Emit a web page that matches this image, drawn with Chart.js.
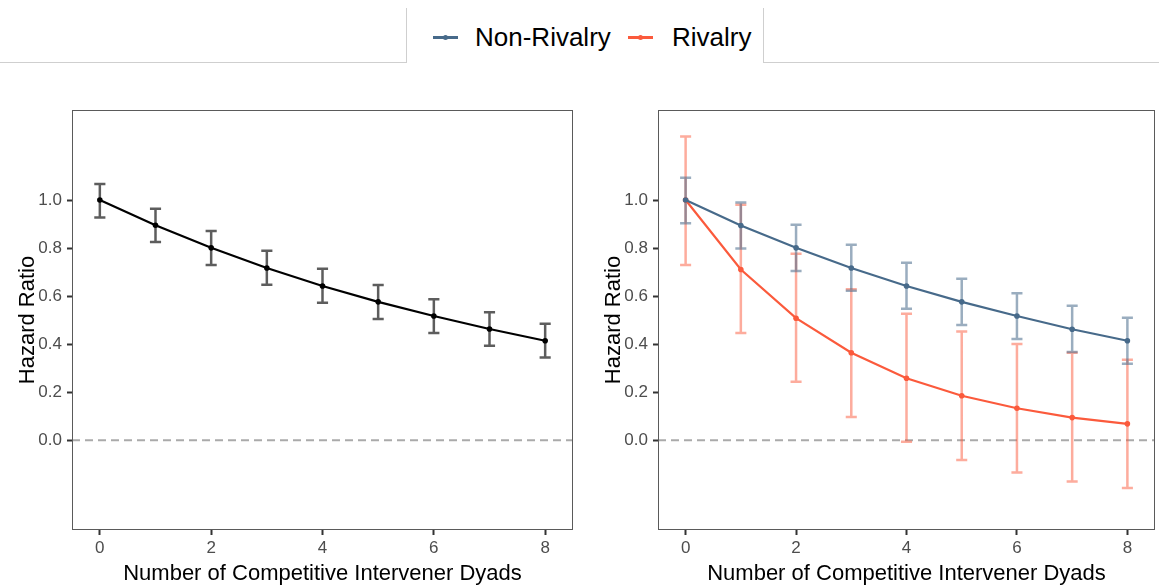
<!DOCTYPE html>
<html>
<head>
<meta charset="utf-8">
<script src="https://cdn.jsdelivr.net/npm/chart.js@4/dist/chart.umd.min.js"></script>
<style>
	body { margin: 0; background: #fff; font-family: "Liberation Sans", Arial, sans-serif; }
	#page { position: relative; width: 1159px; height: 587px; overflow: hidden; }
	canvas { position: absolute; }
	.rule { position: absolute; background: #cfcfcf; }
	.legend-line { position: absolute; height: 3px; top: 36px; width: 25px; }
	.legend-dot { position: absolute; width: 5px; height: 5px; border-radius: 50%; top: 35px; }
	.legend-text { position: absolute; top: 21px; font-size: 26px; line-height: 32px; color: #000; }
</style>
</head>
<body>
<div id="page">
	<div class="rule" style="left:0;top:62px;width:406px;height:1px"></div>
	<div class="rule" style="left:763px;top:62px;width:396px;height:1px"></div>
	<div class="rule" style="left:406px;top:8px;width:1px;height:55px"></div>
	<div class="rule" style="left:763px;top:8px;width:1px;height:55px"></div>

	<div class="legend-line" style="left:433px;background:#476a8a"></div>
	<div class="legend-dot" style="left:443px;background:#476a8a"></div>
	<div class="legend-text" style="left:475px">Non-Rivalry</div>
	<div class="legend-line" style="left:628px;background:#fb5a3c"></div>
	<div class="legend-dot" style="left:638px;background:#fb5a3c"></div>
	<div class="legend-text" style="left:672px">Rivalry</div>

	<canvas id="graphique-global" width="580" height="487" style="left:0;top:100px"></canvas>
	<canvas id="graphique-rivalite" width="573" height="487" style="left:586px;top:100px"></canvas>
</div>
<script>
// Nombre de dyades (axe x)
const dyades = [0, 1, 2, 3, 4, 5, 6, 7, 8];
const xTicks = [0, 2, 4, 6, 8];
const yTicks = [0.0, 0.2, 0.4, 0.6, 0.8, 1.0];

// Panneau gauche : toutes les dyades
const global = [1.0, 0.895, 0.801, 0.717, 0.642, 0.576, 0.517, 0.463, 0.414];
const globalBas = [0.927, 0.825, 0.730, 0.647, 0.572, 0.505, 0.446, 0.393, 0.344];
const globalHaut = [1.067, 0.964, 0.871, 0.789, 0.714, 0.646, 0.587, 0.533, 0.485];

// Panneau droit : non-rivalité / rivalité
const nonRivalite = [1.0, 0.894, 0.801, 0.717, 0.642, 0.576, 0.517, 0.462, 0.414];
const nonRivaliteBas = [0.903, 0.798, 0.705, 0.622, 0.547, 0.480, 0.421, 0.367, 0.318];
const nonRivaliteHaut = [1.093, 0.990, 0.897, 0.814, 0.739, 0.672, 0.612, 0.560, 0.510];
const rivalite = [1.0, 0.711, 0.508, 0.364, 0.258, 0.185, 0.133, 0.094, 0.068];
const rivaliteBas = [0.730, 0.446, 0.243, 0.097, -0.007, -0.082, -0.135, -0.172, -0.199];
const rivaliteHaut = [1.265, 0.980, 0.776, 0.629, 0.527, 0.453, 0.401, 0.364, 0.335];

const titreX = "Number of Competitive Intervener Dyads";
const titreY = "Hazard Ratio";

// Barres d'erreur, ligne pointillée à 0 et cadre du panneau
const decorations = {
	id: "decorations",
	beforeDatasetsDraw(chart) {
		const { ctx, chartArea, scales: { x, y } } = chart;
		ctx.save();
		ctx.strokeStyle = "#aaaaaa";
		ctx.lineWidth = 2;
		ctx.setLineDash([8, 5]);
		const y0 = y.getPixelForValue(0);
		ctx.beginPath();
		ctx.moveTo(chartArea.left, y0);
		ctx.lineTo(chartArea.right, y0);
		ctx.stroke();
		ctx.setLineDash([]);
		const demi = x.getPixelForValue(0.1) - x.getPixelForValue(0);
		for (let d = chart.data.datasets.length - 1; d >= 0; d--) {
			const ds = chart.data.datasets[d];
			ctx.strokeStyle = ds.couleurIC;
			ctx.lineWidth = 2.5;
			ctx.beginPath();
			for (let i = 0; i < ds.data.length; i++) {
				const px = x.getPixelForValue(ds.data[i].x);
				const haut = y.getPixelForValue(ds.haut[i]);
				const bas = y.getPixelForValue(ds.bas[i]);
				ctx.moveTo(px, haut);
				ctx.lineTo(px, bas);
				ctx.moveTo(px - demi, haut);
				ctx.lineTo(px + demi, haut);
				ctx.moveTo(px - demi, bas);
				ctx.lineTo(px + demi, bas);
			}
			ctx.stroke();
		}
		ctx.restore();
	},
	afterDraw(chart) {
		const { ctx, chartArea } = chart;
		ctx.save();
		ctx.strokeStyle = "#5a5a5a";
		ctx.lineWidth = 1;
		ctx.strokeRect(chartArea.left + 0.5, chartArea.top + 0.5, chartArea.right - chartArea.left - 1, chartArea.bottom - chartArea.top - 1);
		ctx.restore();
	}
};

function serie(valeurs, bas, haut, couleur, couleurIC, label) {
	return {
		label: label,
		data: dyades.map((d, i) => ({ x: d, y: valeurs[i] })),
		bas: bas,
		haut: haut,
		couleurIC: couleurIC,
		borderColor: couleur,
		backgroundColor: couleur,
		borderWidth: 2.2,
		pointRadius: 2.8,
		pointBorderWidth: 0,
		tension: 0
	};
}

function config(datasets, paddingDroite) {
	return {
		type: "line",
		data: { datasets: datasets },
		plugins: [decorations],
		options: {
			responsive: false,
			animation: false,
			devicePixelRatio: 1,
			layout: { padding: { top: 10, right: paddingDroite, left: 0, bottom: 0 } },
			plugins: { legend: { display: false }, tooltip: { enabled: false } },
			scales: {
				x: {
					type: "linear",
					min: -0.5,
					max: 8.5,
					afterBuildTicks: s => { s.ticks = xTicks.map(v => ({ value: v })); },
					afterFit: s => { s.height = 57; s.paddingLeft = 0; s.paddingRight = 0; },
					border: { display: false },
					grid: { drawOnChartArea: false, tickLength: 5, tickWidth: 2, tickColor: "#333" },
					ticks: { color: "#4d4d4d", font: { size: 17 }, padding: 3, callback: v => String(v) },
					title: { display: true, text: titreX, color: "#000", font: { size: 22 }, padding: { top: 0, bottom: 0 } }
				},
				y: {
					type: "linear",
					min: -0.374,
					max: 1.375,
					afterBuildTicks: s => { s.ticks = yTicks.map(v => ({ value: v })); },
					afterFit: s => { s.width = 72; s.paddingTop = 0; s.paddingBottom = 0; },
					border: { display: false },
					grid: { drawOnChartArea: false, tickLength: 5, tickWidth: 2, tickColor: "#333" },
					ticks: { color: "#4d4d4d", font: { size: 17 }, padding: 5, callback: v => v.toFixed(1) },
					title: { display: true, text: titreY, color: "#000", font: { size: 22 }, padding: { top: 15, bottom: 0 } }
				}
			}
		}
	};
}

new Chart(document.querySelector("#graphique-global"), config([
	serie(global, globalBas, globalHaut, "#000000", "rgba(30, 30, 30, 0.72)", "All")
], 7));

new Chart(document.querySelector("#graphique-rivalite"), config([
	serie(nonRivalite, nonRivaliteBas, nonRivaliteHaut, "#476a8a", "rgba(71, 106, 138, 0.55)", "Non-Rivalry"),
	serie(rivalite, rivaliteBas, rivaliteHaut, "#fb5a3c", "rgba(251, 90, 60, 0.5)", "Rivalry")
], 0));
</script>
</body>
</html>
